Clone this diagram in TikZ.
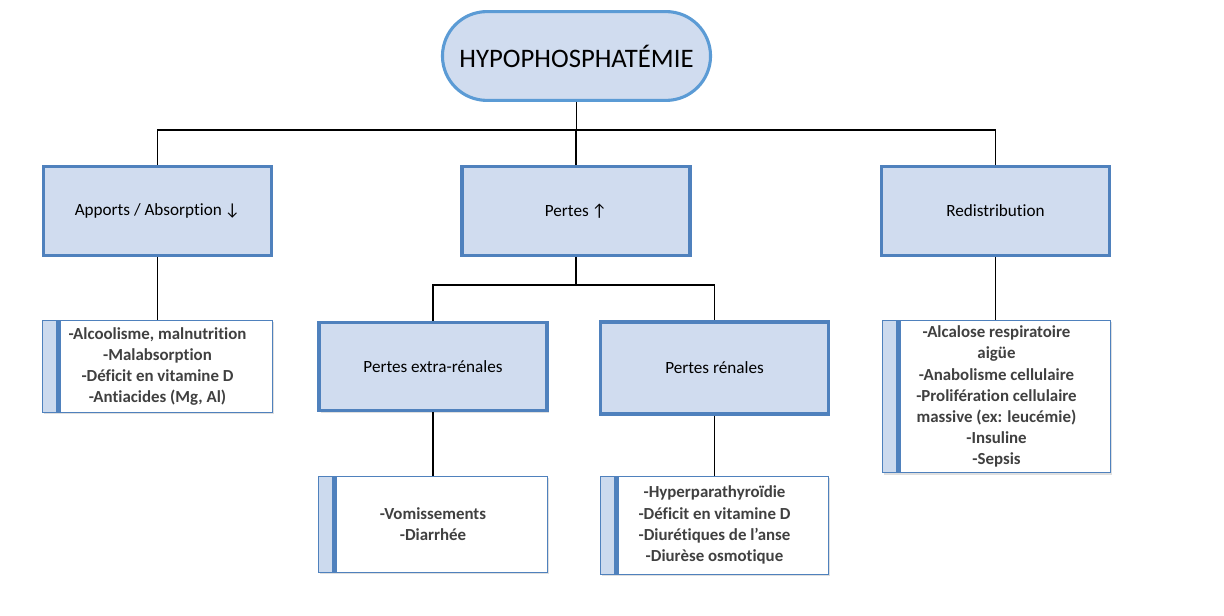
\documentclass[tikz,border=0pt]{standalone}
\usepackage{fontspec}
\setmainfont{Carlito}[Ligatures=NoCommon]
\usetikzlibrary{positioning,shadows}
\definecolor{boxfill}{HTML}{D0DCEF}
\definecolor{titleline}{HTML}{5B9BD5}
\definecolor{boxline}{HTML}{4F81BD}
\definecolor{stripfill}{HTML}{CCDAEE}
\definecolor{listtext}{HTML}{404040}

\tikzset{
  link/.style={line width=0.9pt},
  rootbox/.style={draw=titleline, line width=2.2pt, fill=boxfill, rounded corners=1.11cm,
    minimum width=6.7cm, minimum height=2.22cm, font=\fontsize{19}{22}\selectfont},
  causebox/.style={draw=boxline, line width=2.2pt, fill=boxfill, minimum width=5.7cm,
    minimum height=2.22cm, font=\fontsize{12.2}{14}\selectfont,
    drop shadow={shadow xshift=1.2pt, shadow yshift=-1.2pt, opacity=0.25}},
  listbox/.style={draw=boxline, line width=0.6pt, fill=white, align=center, inner sep=0pt,
    font=\bfseries\fontsize{12}{15}\selectfont, text=listtext,
    drop shadow={shadow xshift=1.2pt, shadow yshift=-1.2pt, opacity=0.25},
    path picture={
      \fill[stripfill] (path picture bounding box.north west) rectangle ([xshift=0.33cm]path picture bounding box.south west);
      \fill[boxline] ([xshift=0.33cm]path picture bounding box.north west) rectangle ([xshift=0.46cm]path picture bounding box.south west);
    }}
}

\begin{document}
\begin{tikzpicture}[x=0.025cm, y=-0.025cm]
  \useasboundingbox (0,0) rectangle (1224,616);

  % racine
  \node[rootbox] (root) at (576.5,56) {HYPOPHOSPHATÉMIE};

  % causes
  \node[causebox] (apports) at (157.5,211) {Apports / Absorption\,↓};
  \node[causebox] (pertes) at (576,211) {Pertes\,↑};
  \node[causebox] (redist) at (995.5,211) {Redistribution};
  \node[causebox] (extra) at (433,366.5) {Pertes extra-rénales};
  \node[causebox, minimum height=2.3cm] (renal) at (714.5,368) {Pertes rénales};

  % listes
  \node[listbox, minimum width=5.75cm, minimum height=2.3cm] (lapports) at (157.5,366.5)
    {-Alcoolisme, malnutrition\\-Malabsorption\\-Déficit en vitamine D\\-Antiacides (Mg, Al)};
  \node[listbox, minimum width=5.72cm, minimum height=2.4cm] (lextra) at (433,524)
    {-Vomissements\\-Diarrhée};
  \node[listbox, minimum width=5.7cm, minimum height=2.45cm] (lrenal) at (714.5,525)
    {-Hyperparathyroïdie\\-Déficit en vitamine D\\-Diurétiques de l’anse\\-Diurèse osmotique};
  \node[listbox, minimum width=5.7cm, minimum height=3.82cm] (lredist) at (996.5,396.5)
    {-Alcalose respiratoire\\aigüe\\-Anabolisme cellulaire\\-Prolifération cellulaire\\massive (ex: leucémie)\\-Insuline\\-Sepsis};

  % liens
  \coordinate (bus) at (576.5,130);
  \coordinate (split) at (576,285);
  \draw[link] (root.south) -- (bus);
  \draw[link] (bus) -| (apports.north);
  \draw[link] (bus) -| (pertes.north);
  \draw[link] (bus) -| (redist.north);
  \draw[link] (pertes.south) -- (split);
  \draw[link] (split) -| (extra.north);
  \draw[link] (split) -| (renal.north);
  \draw[link] (apports.south) -- (lapports.north);
  \draw[link] (redist.south) -- (redist.south |- lredist.north);
  \draw[link] (extra.south) -- (lextra.north);
  \draw[link] (renal.south) -- (lrenal.north);
\end{tikzpicture}
\end{document}
